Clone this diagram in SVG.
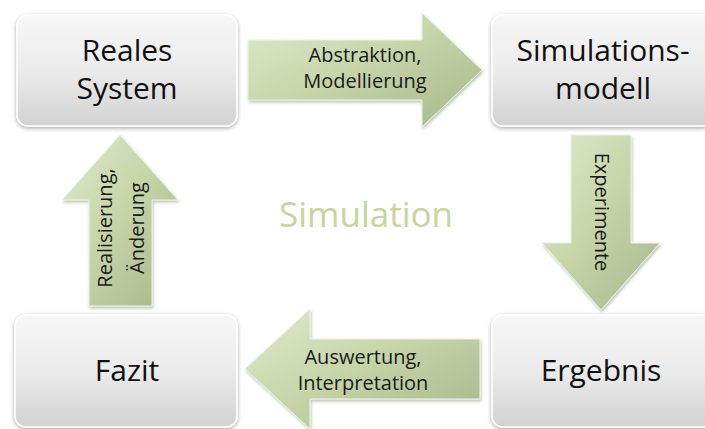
<svg xmlns="http://www.w3.org/2000/svg" width="705" height="429" viewBox="0 0 705 429">
  <defs>
    <linearGradient id="boxFill" x1="0" y1="0" x2="0" y2="1">
      <stop offset="0" stop-color="#f7f7f7"/>
      <stop offset="0.5" stop-color="#ebebeb"/>
      <stop offset="1" stop-color="#d2d2d2"/>
    </linearGradient>
    <linearGradient id="arrowFill" x1="0" y1="0" x2="1" y2="1">
      <stop offset="0" stop-color="#e1e9cf"/>
      <stop offset="0.45" stop-color="#c8d6aa"/>
      <stop offset="1" stop-color="#a5b78a"/>
    </linearGradient>
    <filter id="boxShadow" x="-10%" y="-10%" width="120%" height="125%">
      <feDropShadow dx="0" dy="1.5" stdDeviation="2.2" flood-color="#000" flood-opacity="0.35"/>
    </filter>
    <filter id="arrowShadow" x="-10%" y="-10%" width="125%" height="125%">
      <feDropShadow dx="1" dy="2" stdDeviation="1.8" flood-color="#4a5535" flood-opacity="0.35"/>
    </filter>
  </defs>
  <style>
    .box { fill: url(#boxFill); stroke: #ffffff; stroke-width: 1.5; filter: url(#boxShadow); }
    .arrow { fill: url(#arrowFill); stroke: #eef3e2; stroke-width: 1; filter: url(#arrowShadow); }
    .node-text { font-family: "Open Sans", "Noto Sans", sans-serif; font-size: 30px; fill: #111111; text-anchor: middle; }
    .arrow-text { font-family: "Open Sans", "Noto Sans", sans-serif; font-size: 20px; fill: #1a1a1a; text-anchor: middle; }
    .title { font-family: "Open Sans", "Noto Sans", sans-serif; font-size: 35px; fill: #c3d69b; text-anchor: middle; }
  </style>

  <rect width="705" height="429" fill="#ffffff"/>

  <!-- cycle arrows -->
  <g id="connectors">
    <g id="arrow-abstraktion">
      <path class="arrow" d="M248,40 H422 V13 L482,70 L422,127 V100 H248 Z"/>
      <text class="arrow-text" x="365" y="62">Abstraktion,</text>
      <text class="arrow-text" x="365" y="88">Modellierung</text>
    </g>
    <g id="arrow-experimente">
      <path class="arrow" d="M571,135 H631 V243 H660 L601,310 L542,243 H571 Z"/>
      <text class="arrow-text" transform="translate(595,212) rotate(90)">Experimente</text>
    </g>
    <g id="arrow-auswertung">
      <path class="arrow" d="M480,339 H310 V309 L245,369 L310,429 V399 H480 Z"/>
      <text class="arrow-text" x="363" y="364">Auswertung,</text>
      <text class="arrow-text" x="363" y="390">Interpretation</text>
    </g>
    <g id="arrow-realisierung">
      <path class="arrow" d="M89,306 V200 H62 L120,135 L178,200 H152 V306 Z"/>
      <g transform="translate(112,228) rotate(-90)">
        <text class="arrow-text" x="0" y="0">Realisierung,</text>
        <text class="arrow-text" x="0" y="32">Änderung</text>
      </g>
    </g>
  </g>

  <!-- process stages -->
  <g id="node-reales-system">
    <rect class="box" x="17" y="15" width="220" height="111" rx="11"/>
    <text class="node-text" x="127" y="61">Reales</text>
    <text class="node-text" x="127" y="99">System</text>
  </g>
  <g id="node-simulationsmodell">
    <rect class="box" x="492" y="15" width="222" height="111" rx="11"/>
    <text class="node-text" x="603" y="61">Simulations-</text>
    <text class="node-text" x="603" y="99">modell</text>
  </g>
  <g id="node-ergebnis">
    <rect class="box" x="492" y="315" width="222" height="112" rx="11"/>
    <text class="node-text" x="601" y="381">Ergebnis</text>
  </g>
  <g id="node-fazit">
    <rect class="box" x="15" y="315" width="222" height="112" rx="11"/>
    <text class="node-text" x="127" y="381">Fazit</text>
  </g>

  <text class="title" x="366" y="227">Simulation</text>
</svg>
